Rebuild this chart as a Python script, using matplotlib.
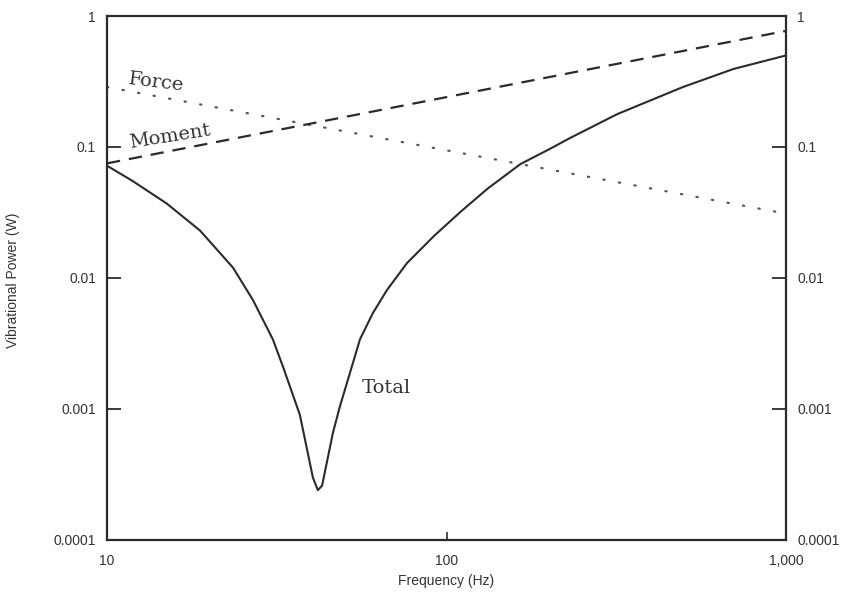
import numpy as np
import matplotlib
matplotlib.use("Agg")
import matplotlib.pyplot as plt

# values (log-log)
total_freq = [10, 11.9, 15.0, 18.8, 23.5, 26.9, 30.8, 33.0, 37.0, 40.4, 41.8,
              43.0, 44.5, 46.3, 48.5, 52.0, 55.6, 60.7, 66.8, 76.5, 92, 110,
              132, 165, 202, 231, 318, 497, 700, 1000]
total_power = [0.072, 0.055, 0.037, 0.023, 0.012, 0.0068, 0.0034, 0.0021,
               0.0009, 0.0003, 0.00024, 0.00026, 0.0004, 0.00066, 0.00104,
               0.0019, 0.0034, 0.0054, 0.0081, 0.013, 0.021, 0.032, 0.048,
               0.074, 0.097, 0.117, 0.178, 0.287, 0.394, 0.50]
force_freq = [10, 1000]
force_power = [0.287, 0.031]
moment_freq = [10, 1000]
moment_power = [0.075, 0.77]

ytick_vals = [0.0001, 0.001, 0.01, 0.1, 1]
ytick_labels = ["0.0001", "0.001", "0.01", "0.1", "1"]
xtick_vals = [10, 100, 1000]
xtick_labels = ["10", "100", "1,000"]

INK = "#2b2b2b"

fig = plt.figure(figsize=(8.58, 6.04), dpi=100)
ax = fig.add_axes([0.1247, 0.106, 0.7914, 0.8675])

ax.plot(total_freq, total_power, color=INK, lw=1.5, solid_joinstyle="round")
ax.plot(force_freq, force_power, color="#555555", lw=1.6,
        linestyle=(0, (0.6, 6.5)), dash_capstyle="round")
ax.plot(moment_freq, moment_power, color=INK, lw=1.6, linestyle=(0, (6, 4)))

ax.set_xscale("log")
ax.set_yscale("log")
ax.set_xlim(10, 1000)
ax.set_ylim(0.0001, 1)

ax.set_yticks(ytick_vals)
ax.set_yticklabels(ytick_labels)
ax.set_xticks(xtick_vals)
ax.set_xticklabels(xtick_labels)
ax.minorticks_off()

tick_font = {"family": "Liberation Sans", "size": 10}
ax.tick_params(axis="both", labelsize=10, labelcolor="#333333")
for lab in ax.get_xticklabels() + ax.get_yticklabels():
    lab.set_fontfamily("Liberation Sans")

ax.tick_params(axis="y", which="major", direction="in", length=10, width=1.3,
               left=True, right=True, labelleft=True, labelright=True,
               color=INK, pad=8)
ax.tick_params(axis="x", which="major", direction="in", length=6, width=1.2,
               color=INK, pad=10)
for t in ax.yaxis.get_major_ticks():
    t.label2.set_fontfamily("Liberation Sans")
    t.label2.set_color("#333333")

for sp in ax.spines.values():
    sp.set_linewidth(1.6)
    sp.set_color(INK)

ax.set_ylabel("Vibrational Power (W)", fontdict=tick_font, color="#333333")
ax.yaxis.set_label_coords(-0.128, 0.496)
ax.set_xlabel("Frequency (Hz)", fontdict=tick_font, color="#333333")
ax.xaxis.set_label_coords(0.5, -0.065)

lab_font = dict(family="DejaVu Serif", size=14, color="#333333")
ax.text(11.5, 0.30, "Force", rotation=-7, rotation_mode="anchor",
        ha="left", va="baseline", **lab_font)
ax.text(11.7, 0.098, "Moment", rotation=9, rotation_mode="anchor",
        ha="left", va="baseline", **lab_font)
ax.text(56.4, 0.00132, "Total", ha="left", va="baseline", **lab_font)

fig.savefig("out.png", dpi=100)
